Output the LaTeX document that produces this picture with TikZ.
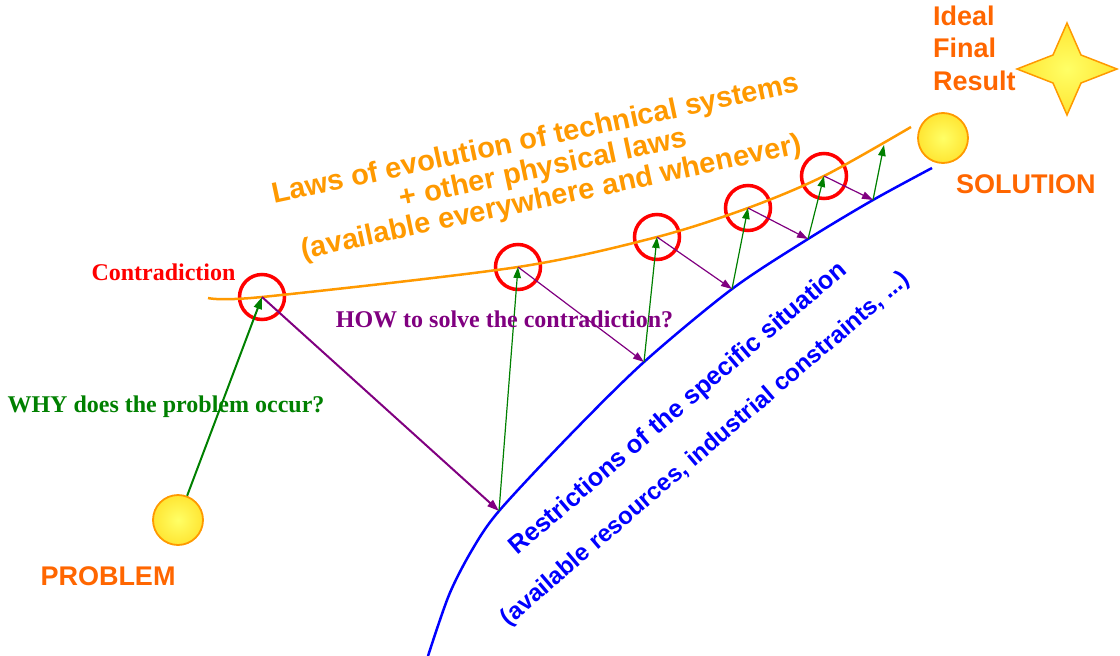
\documentclass[tikz,border=0pt]{standalone}
\usepackage{fontspec}
\setmainfont{Liberation Serif}
\setsansfont{Liberation Sans}
\usetikzlibrary{arrows.meta}
\definecolor{lawor}{HTML}{FF9900}
\definecolor{resor}{HTML}{FF6600}
\definecolor{cred}{HTML}{FF0000}
\definecolor{cgreen}{HTML}{008000}
\definecolor{cpurple}{HTML}{800080}
\definecolor{cblue}{HTML}{0000FF}
\definecolor{sunin}{HTML}{FFFF66}
\definecolor{sunout}{HTML}{FFCC00}
\pgfdeclareradialshading{sunshade}{\pgfpoint{0bp}{0bp}}{color(0bp)=(sunin); color(50bp)=(sunout)}
\begin{document}
\begin{tikzpicture}[x=1pt,y=-1pt,
  sunball/.style={circle, minimum size=50pt, inner sep=0pt, draw=lawor, line width=1.8pt, shade, shading=sunshade},
  ring/.style={circle, minimum size=45pt, inner sep=0pt, draw=cred, line width=3.5pt},
  lawline/.style={draw=lawor, line width=2.5pt},
  resline/.style={draw=cblue, line width=2.5pt},
  garrowA/.style={draw=cgreen, line width=2pt, -{Triangle[length=12pt,width=8pt]}},
  parrowA/.style={draw=cpurple, line width=2pt, -{Triangle[length=12pt,width=8pt]}},
  garrow/.style={draw=cgreen, line width=1.2pt, -{Triangle[length=11pt,width=7.5pt]}},
  parrow/.style={draw=cpurple, line width=1.2pt, -{Triangle[length=11pt,width=7.5pt]}},
  bigsans/.style={font=\sffamily\bfseries\fontsize{27}{32}\selectfont, inner sep=0pt},
  lawsans/.style={font=\sffamily\bfseries\fontsize{29}{34}\selectfont, inner sep=0pt, text=lawor, anchor=base, rotate=12},
  ressans/.style={font=\sffamily\bfseries\fontsize{25.3}{30}\selectfont, inner sep=0pt, text=cblue, anchor=base, rotate=40.6},
  serlabel/.style={font=\rmfamily\bfseries\fontsize{24}{28}\selectfont, inner sep=0pt, anchor=base},
]
\useasboundingbox (0,0) rectangle (1120,656);

% points on the laws curve
\coordinate (ostart) at (208,298);
\coordinate (p0) at (262,297);
\coordinate (p1) at (518,267);
\coordinate (p2) at (657,237);
\coordinate (p3) at (748,208);
\coordinate (p4) at (824,176);
\coordinate (oend) at (911,127);
% points on the restriction curve
\coordinate (b0) at (428,656);
\coordinate (b1) at (449,595);
\coordinate (b2) at (472,550);
\coordinate (q0) at (499,511);
\coordinate (b3) at (570,435);
\coordinate (q1) at (644,362);
\coordinate (q2) at (732,289);
\coordinate (q3) at (808,239);
\coordinate (q4) at (873,200);
\coordinate (bend) at (932,168);
\coordinate (e5) at (884,145);

% contradiction rings
\node[ring] (c0) at (p0) {};
\node[ring] (c1) at (p1) {};
\node[ring] (c2) at (p2) {};
\node[ring] (c3) at (p3) {};
\node[ring] (c4) at (p4) {};

% curves
\draw[lawline] plot[smooth] coordinates {(ostart) (p0) (p1) (p2) (p3) (p4) (oend)};
\draw[resline] plot[smooth] coordinates {(b0) (b1) (b2) (q0) (b3) (q1) (q2) (q3) (q4) (bend)};

% suns
\node[sunball] (sunP) at (178,520) {};
\node[sunball] (sunS) at (943,138) {};

% star
\shade[shading=sunshade, draw=lawor, line width=1.5pt]
  (1067,23) -- (1081,55) -- (1117,69) -- (1081,83) -- (1067,115)
  -- (1053,83) -- (1017,69) -- (1053,55) -- cycle;

% arrows
\draw[garrowA] (sunP) -- (p0);
\draw[parrowA] (p0) -- (q0);
\draw[garrow] (q0) -- (p1);
\draw[parrow] (p1) -- (q1);
\draw[garrow] (q1) -- (p2);
\draw[parrow] (p2) -- (q2);
\draw[garrow] (q2) -- (p3);
\draw[parrow] (p3) -- (q3);
\draw[garrow] (q3) -- (p4);
\draw[parrow] (p4) -- (q4);
\draw[garrow] (q4) -- (e5);

% texts
\node[bigsans, text=resor, anchor=base west] (ifr1) at (933,25) {Ideal};
\node[bigsans, text=resor, anchor=base west] (ifr2) at (933,57) {Final};
\node[bigsans, text=resor, anchor=base west] (ifr3) at (933,90) {Result};
\node[bigsans, text=resor, anchor=base west] (sol) at (956,193) {SOLUTION};
\node[bigsans, text=resor, anchor=base] (prob) at (108,585) {PROBLEM};

\node[serlabel, text=cred] (contra) at (163.5,280) {Contradiction};
\node[serlabel, text=cgreen] (why) at (166,412) {WHY does the problem occur?};
\node[serlabel, text=cpurple] (how) at (504.5,327) {HOW to solve the contradiction?};

\node[lawsans] (law1) at (537.5,147.5) {Laws of evolution of technical systems};
\node[lawsans] (law2) at (545,177) {+ other physical laws};
\node[lawsans] (law3) at (553,206) {(available everywhere and whenever)};

\node[ressans] (res1) at (683,414) {Restrictions of the specific situation};
\node[ressans, font=\sffamily\bfseries\fontsize{24}{30}\selectfont] (res2) at (710,454) {(available resources, industrial constraints, ...)};
\end{tikzpicture}
\end{document}
